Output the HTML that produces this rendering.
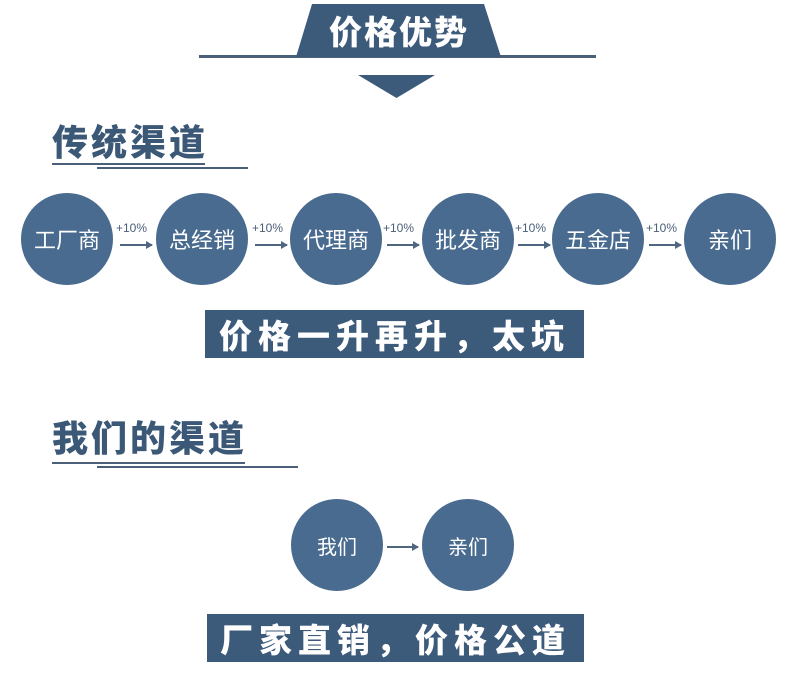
<!DOCTYPE html>
<html><head><meta charset="utf-8"><style>
body{margin:0;width:791px;height:696px;background:#fff;position:relative;overflow:hidden;font-family:"Liberation Sans","Noto Sans CJK SC",sans-serif}
.a{position:absolute}
.c{position:absolute;width:92px;height:92px;border-radius:50%;background:#496b8f;color:#fff;font-size:22px;display:flex;align-items:center;justify-content:center;font-family:"Liberation Sans","Noto Sans CJK SC",sans-serif}
.p{position:absolute;font-size:12px;color:#4a5f78}
.ar{position:absolute;height:1.5px;background:#4f6680}
.ar:after{content:"";position:absolute;right:-1px;top:-3.5px;border-left:7px solid #4f6680;border-top:4px solid transparent;border-bottom:4px solid transparent}
.t{position:absolute;font-weight:900;color:#3c5877;font-size:36px;letter-spacing:3px;font-family:"Noto Sans CJK SC",sans-serif;line-height:1}
.b{position:absolute;background:#3c5a7a;color:#fff;font-weight:900;font-size:33px;letter-spacing:6px;display:flex;align-items:center;justify-content:center;font-family:"Noto Sans CJK SC",sans-serif}
.l{position:absolute;height:2px;background:#4a6078}
</style></head><body>
<div class="a" style="left:199px;top:55px;width:397px;height:3px;background:#4a6078"></div>
<svg class="a" style="left:296px;top:4px" width="206" height="54"><polygon points="16,0 188,0 205,53 0,53" fill="#3c5a7a"/></svg>
<div class="a" style="left:296px;top:8px;width:206px;text-align:center;color:#fff;font-weight:900;font-size:33px;font-family:'Noto Sans CJK SC',sans-serif;line-height:44px;letter-spacing:2px">价格优势</div>
<svg class="a" style="left:358px;top:75px" width="78" height="24"><polygon points="0,0 77,0 38.5,23" fill="#3c5a7a"/></svg>

<div class="t" style="left:52px;top:122px">传统渠道</div>
<div class="l" style="left:52px;top:163px;width:153px"></div>
<div class="l" style="left:97px;top:167px;width:151px"></div>

<div class="c" style="left:21px;top:193px">工厂商</div>
<div class="c" style="left:156px;top:193px">总经销</div>
<div class="c" style="left:290px;top:193px">代理商</div>
<div class="c" style="left:422px;top:193px">批发商</div>
<div class="c" style="left:552px;top:193px">五金店</div>
<div class="c" style="left:684px;top:193px">亲们</div>
<div class="p" style="left:116px;top:221px">+10%</div><div class="ar" style="left:120px;top:244px;width:32px"></div>
<div class="p" style="left:252px;top:221px">+10%</div><div class="ar" style="left:255px;top:244px;width:32px"></div>
<div class="p" style="left:383px;top:221px">+10%</div><div class="ar" style="left:387px;top:244px;width:32px"></div>
<div class="p" style="left:515px;top:221px">+10%</div><div class="ar" style="left:518px;top:244px;width:32px"></div>
<div class="p" style="left:646px;top:221px">+10%</div><div class="ar" style="left:649px;top:244px;width:32px"></div>

<div class="b" style="left:205px;top:310px;width:379px;height:48px">价格一升再升，太坑</div>

<div class="t" style="left:52px;top:418px">我们的渠道</div>
<div class="l" style="left:52px;top:462px;width:193px"></div>
<div class="l" style="left:97px;top:466px;width:201px"></div>

<div class="c" style="left:291px;top:499px;font-size:20px">我们</div>
<div class="c" style="left:422px;top:499px;font-size:20px">亲们</div>
<div class="ar" style="left:387px;top:546px;width:31px"></div>

<div class="b" style="left:207px;top:614px;width:377px;height:48px">厂家直销，价格公道</div>
</body></html>
